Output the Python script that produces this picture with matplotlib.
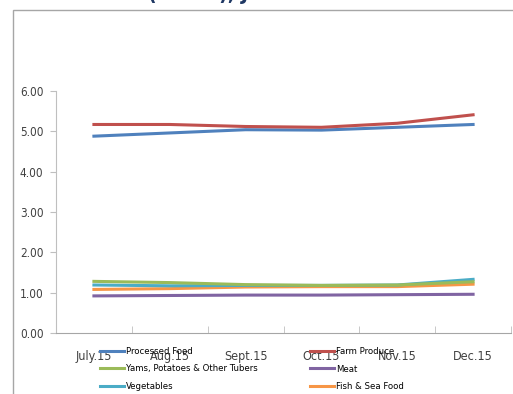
import matplotlib.pyplot as plt
from matplotlib.patches import Rectangle

plt.rcParams['font.family'] = ['DejaVu Sans']
plt.rcParams['font.stretch'] = 'condensed'

months = ["July.15", "Aug.15", "Sept.15", "Oct.15", "Nov.15", "Dec.15"]

processed_food = [4.88, 4.96, 5.04, 5.03, 5.10, 5.17]
farm_produce = [5.17, 5.17, 5.12, 5.10, 5.20, 5.41]
yams_tubers = [1.28, 1.25, 1.20, 1.18, 1.19, 1.27]
meat = [0.92, 0.93, 0.94, 0.94, 0.95, 0.96]
vegetables = [1.19, 1.17, 1.18, 1.18, 1.19, 1.33]
fish_seafood = [1.08, 1.10, 1.14, 1.15, 1.15, 1.21]

fig = plt.figure(figsize=(5.13, 3.94), dpi=100)

# outer chart frame
fig.patches.append(Rectangle((13 / 513, -0.1), 1.1, 1 - 10 / 394 + 0.1,
                             transform=fig.transFigure, fill=False,
                             edgecolor="#a6a6a6", lw=1.0))

fig.text(267 / 513, 1.0, "(Y-on-Y), Jul - Dec 2015", ha="center",
         va="baseline", fontsize=15, fontweight="bold", color="#1f3864")

ax = fig.add_axes([56 / 513, 1 - 333 / 394, 455 / 513, 242 / 394])
x = range(len(months))

ax.plot(x, processed_food, color="#4f81bd", lw=2.2, label="Processed Food")
ax.plot(x, farm_produce, color="#c0504d", lw=2.2, label="Farm Produce")
ax.plot(x, meat, color="#8064a2", lw=2.2, label="Meat")
ax.plot(x, fish_seafood, color="#f79646", lw=2.2, label="Fish & Sea Food")
ax.plot(x, vegetables, color="#4bacc6", lw=2.2, label="Vegetables")
ax.plot(x, yams_tubers, color="#9bbb59", lw=2.2,
        label="Yams, Potatoes & Other Tubers")

ax.set_xlim(-0.5, len(months) - 0.5)
ax.set_ylim(0, 6)
ax.set_yticks([0, 1, 2, 3, 4, 5, 6])
ax.set_yticklabels([f"{v:.2f}" for v in range(7)])
ax.set_xticks(list(x))
ax.set_xticklabels(months)
ax.set_xticks([i + 0.5 for i in range(len(months))], minor=True)
ax.tick_params(axis="x", which="major", length=0, pad=12, labelsize=9,
               labelcolor="#404040")
ax.tick_params(axis="x", which="minor", length=5, color="#bfbfbf",
               direction="in")
ax.tick_params(axis="y", length=4, color="#bfbfbf", labelsize=8.5,
               labelcolor="#404040", pad=5)

for side in ("top", "right"):
    ax.spines[side].set_visible(False)
ax.spines["left"].set_color("#bfbfbf")
ax.spines["bottom"].set_color("#a6a6a6")

handles, labels = ax.get_legend_handles_labels()
order = ["Processed Food", "Yams, Potatoes & Other Tubers", "Vegetables",
         "Farm Produce", "Meat", "Fish & Sea Food"]
h = [handles[labels.index(n)] for n in order]
fig.legend(h, order, ncol=2, loc="upper left",
           bbox_to_anchor=(100 / 513, 1 - 347 / 394), frameon=False,
           fontsize=6.8, handlelength=2.5, handletextpad=0.2,
           columnspacing=5.6, labelspacing=0.9, borderpad=0,
           borderaxespad=0)

fig.savefig("out.png", dpi=100)
